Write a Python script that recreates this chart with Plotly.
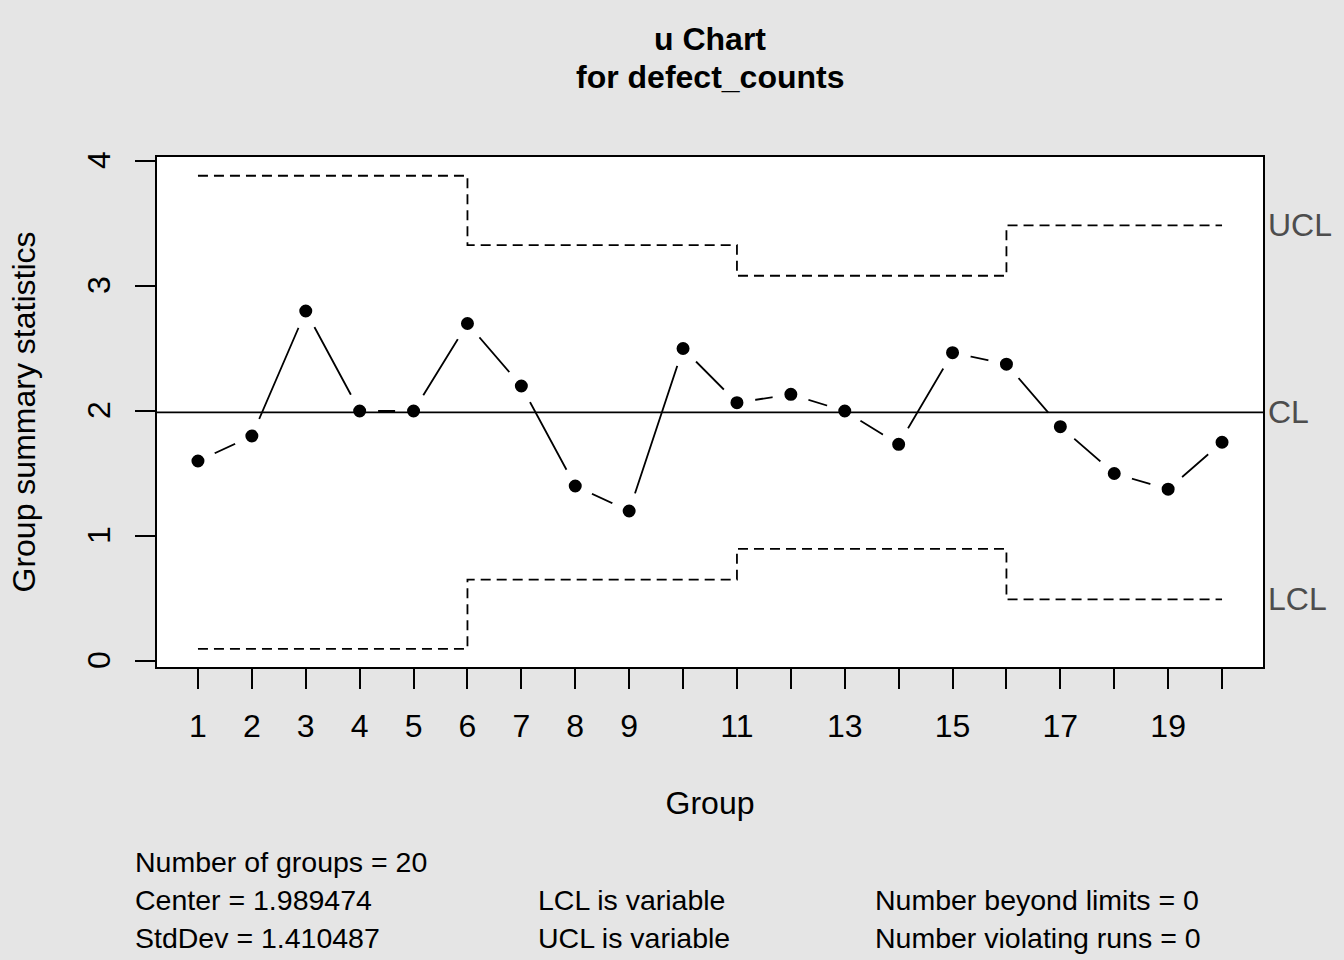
import math
import plotly.graph_objects as go

# ---- data ----
groups = list(range(1, 21))
defect_counts = [8, 9, 14, 10, 10, 27, 22, 14, 12, 25, 31, 32, 30, 26, 37, 19, 15, 12, 11, 14]
sample_sizes = [5, 5, 5, 5, 5, 10, 10, 10, 10, 10, 15, 15, 15, 15, 15, 8, 8, 8, 8, 8]
x_tick_labels = ["1", "2", "3", "4", "5", "6", "7", "8", "9", "", "11", "", "13", "", "15", "", "17", "", "19", ""]
y_tick_values = [0, 1, 2, 3, 4]
number_beyond_limits = 0
number_violating_runs = 0

# ---- u chart statistics ----
u_values = [c / n for c, n in zip(defect_counts, sample_sizes)]
center = sum(defect_counts) / sum(sample_sizes)
std_dev = math.sqrt(center)
ucl = [center + 3 * math.sqrt(center / n) for n in sample_sizes]
lcl = [max(0.0, center - 3 * math.sqrt(center / n)) for n in sample_sizes]

FONT = "Liberation Sans, Arial, sans-serif"
BG = "#E5E5E5"
LABEL_GRAY = "#4D4D4D"

fig = go.Figure()

# group statistics (line with gaps around points, like R type="b")
fig.add_trace(go.Scatter(
    x=groups, y=u_values, mode="lines+markers",
    line=dict(color="black", width=1.8),
    marker=dict(color="black", size=25, line=dict(color="white", width=12)),
    hoverinfo="skip", showlegend=False,
))

# control limits
for lim in (ucl, lcl):
    fig.add_trace(go.Scatter(
        x=groups, y=lim, mode="lines", line_shape="hv",
        line=dict(color="black", width=1.8, dash="10px,6px"),
        hoverinfo="skip", showlegend=False,
    ))

# center line
fig.add_hline(y=center, line=dict(color="black", width=1.8), layer="above")

# limit labels on the right
for txt, yv in (("UCL", ucl[-1]), ("CL", center), ("LCL", lcl[-1])):
    fig.add_annotation(x=1, xref="paper", y=yv, yref="y", text=txt, showarrow=False,
                       xanchor="left", yanchor="middle", xshift=3,
                       font=dict(family=FONT, size=32, color=LABEL_GRAY))

# title
fig.add_annotation(x=0.5, xref="paper", y=1.0, yref="paper", yshift=118, text="<b>u Chart</b>",
                   showarrow=False, xanchor="center", yanchor="middle",
                   font=dict(family=FONT, size=32, color="black"))
fig.add_annotation(x=0.5, xref="paper", y=1.0, yref="paper", yshift=80, text="<b>for defect_counts</b>",
                   showarrow=False, xanchor="center", yanchor="middle",
                   font=dict(family=FONT, size=32, color="black"))

# summary statistics
stats = [
    (-0.0199, 195, f"Number of groups = {len(groups)}"),
    (-0.0199, 233, f"Center = {center:.6f}"),
    (-0.0199, 271, f"StdDev = {std_dev:.6f}"),
    (0.3445, 233, "LCL is variable"),
    (0.3445, 271, "UCL is variable"),
    (0.6492, 233, f"Number beyond limits = {number_beyond_limits}"),
    (0.6492, 271, f"Number violating runs = {number_violating_runs}"),
]
for xp, dy, txt in stats:
    fig.add_annotation(x=xp, xref="paper", y=0, yref="paper", yshift=-dy, xshift=-2, text=txt,
                       showarrow=False, xanchor="left", yanchor="middle",
                       font=dict(family=FONT, size=28.5, color="black"))

axis_common = dict(
    showgrid=False, zeroline=False, showline=True, mirror=True,
    linecolor="black", linewidth=2, ticks="outside", ticklen=20, tickwidth=2,
    tickcolor="black", tickfont=dict(family=FONT, size=32, color="black"),
)

fig.update_layout(
    width=1344, height=960,
    margin=dict(l=157, r=81, t=157, b=293),
    paper_bgcolor=BG, plot_bgcolor="white",
    font=dict(family=FONT, color="black"),
    xaxis=dict(range=[0.24, 20.76], tickmode="array", tickvals=groups, ticktext=x_tick_labels,
               ticklabelstandoff=10,
               title=dict(text="Group", font=dict(family=FONT, size=32), standoff=48),
               **axis_common),
    yaxis=dict(range=[-0.048, 4.032], tickmode="array", tickvals=y_tick_values,
               ticktext=[str(v) for v in y_tick_values], tickangle=-90,
               ticklabelstandoff=12, ticklabelshift=4,
               title=dict(text="Group summary statistics", font=dict(family=FONT, size=32), standoff=36),
               **axis_common),
)

fig.write_html("out.html", config={"displayModeBar": False},
               post_script="document.body.style.margin='0';")
